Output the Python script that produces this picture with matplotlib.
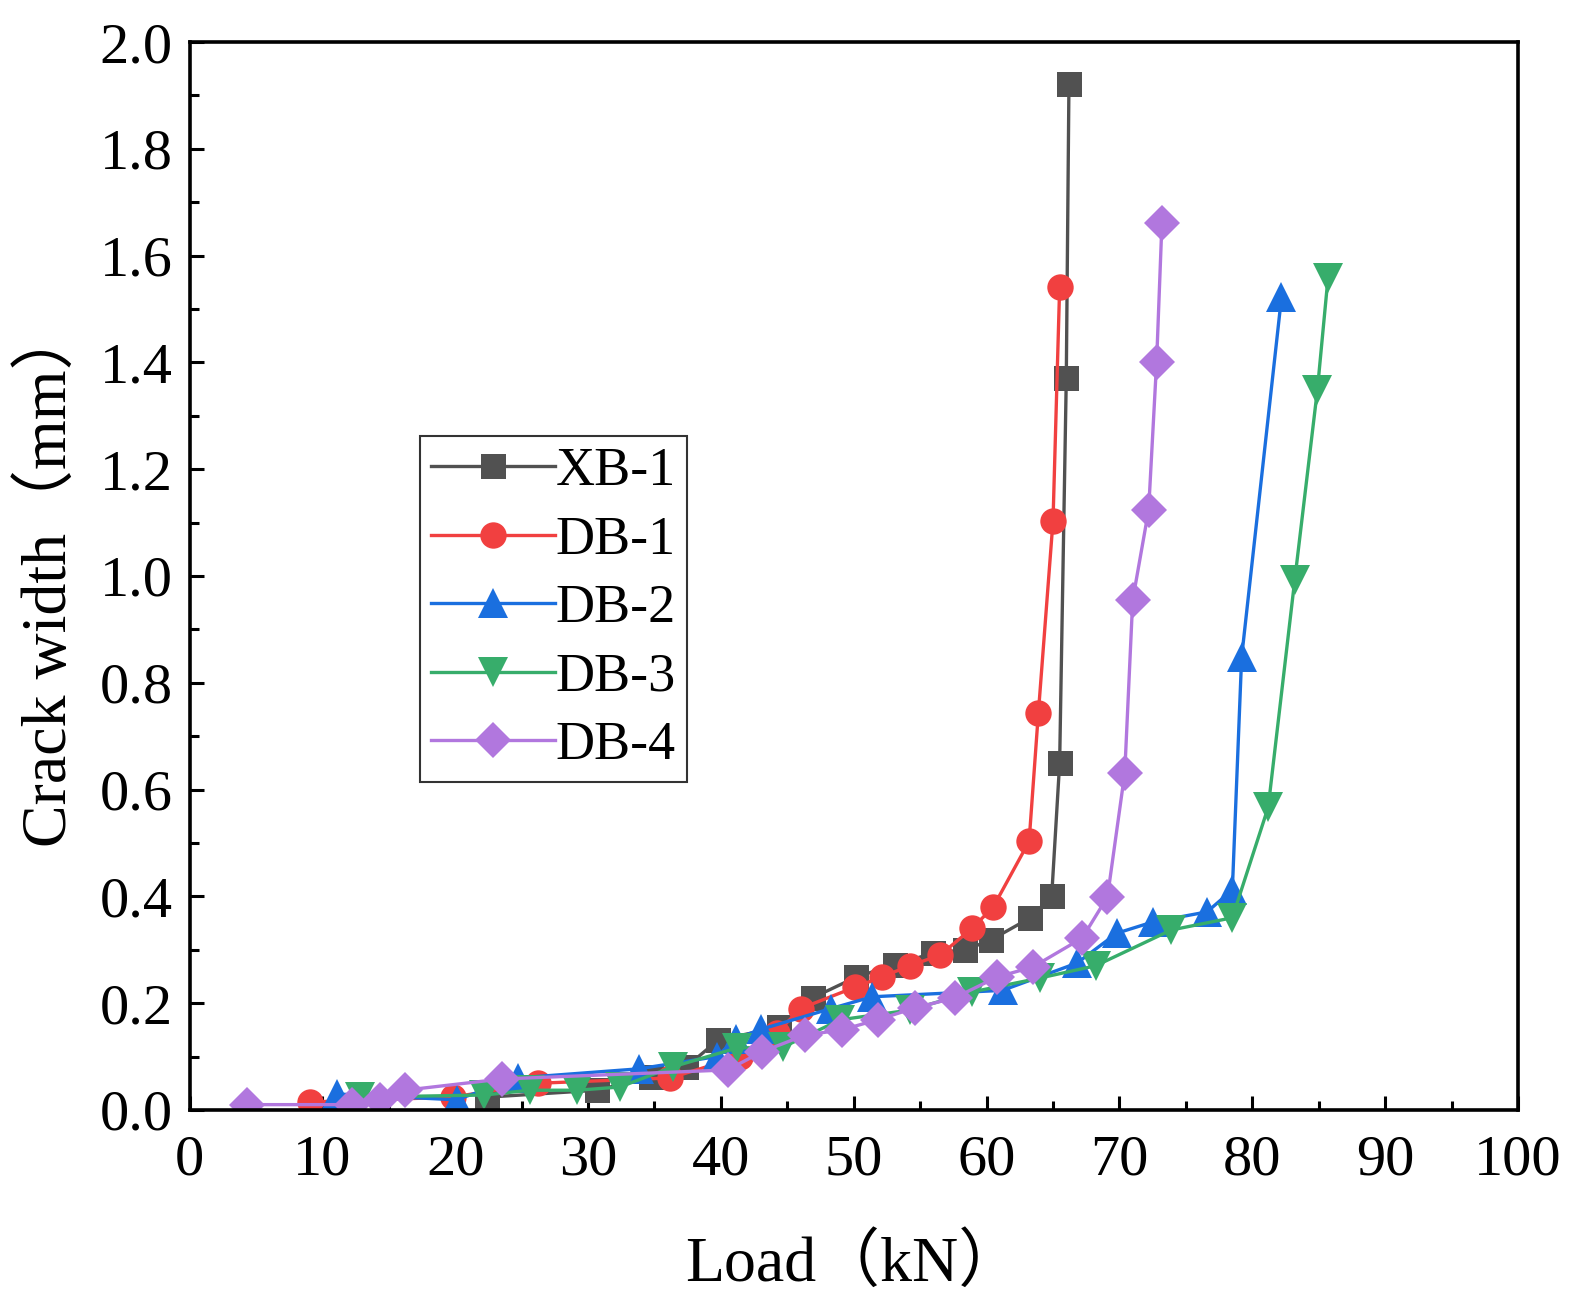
import matplotlib
matplotlib.use("Agg")
import matplotlib.pyplot as plt
from matplotlib.ticker import MultipleLocator, FormatStrFormatter

# ---- data ----
xb1_x = [22.4, 30.7, 34.7, 37.4, 39.8, 44.4, 46.9, 50.2, 53.1, 56.0, 58.4, 60.3, 63.3, 64.9, 65.5, 66.0, 66.2]
xb1_y = [0.024, 0.037, 0.062, 0.081, 0.131, 0.155, 0.21, 0.249, 0.272, 0.294, 0.30, 0.318, 0.36, 0.40, 0.65, 1.371, 1.921]

db1_x = [9.1, 19.8, 26.2, 36.2, 41.4, 44.2, 46.0, 50.1, 52.1, 54.2, 56.5, 58.9, 60.5, 63.2, 63.9, 65.0, 65.5]
db1_y = [0.015, 0.024, 0.05, 0.06, 0.10, 0.144, 0.19, 0.23, 0.249, 0.27, 0.29, 0.34, 0.38, 0.503, 0.744, 1.103, 1.541]

db2_x = [11.1, 20.1, 24.7, 33.8, 39.7, 41.1, 43.0, 48.3, 51.4, 61.2, 66.8, 69.8, 72.5, 76.6, 78.5, 79.2, 82.2]
db2_y = [0.03, 0.019, 0.06, 0.077, 0.10, 0.133, 0.151, 0.19, 0.212, 0.224, 0.275, 0.331, 0.352, 0.371, 0.412, 0.848, 1.522]

db3_x = [12.8, 22.2, 25.6, 29.2, 32.4, 36.4, 41.2, 44.7, 49.0, 54.2, 58.9, 64.0, 68.2, 73.9, 78.5, 81.2, 83.2, 84.9, 85.7]
db3_y = [0.024, 0.028, 0.037, 0.037, 0.043, 0.081, 0.116, 0.118, 0.169, 0.187, 0.221, 0.247, 0.27, 0.337, 0.36, 0.567, 0.993, 1.348, 1.558]

db4_x = [4.3, 12.2, 14.3, 16.2, 23.5, 40.5, 43.1, 46.3, 49.1, 51.8, 54.6, 57.6, 60.8, 63.5, 67.2, 69.1, 70.4, 71.0, 72.2, 72.8, 73.2]
db4_y = [0.01, 0.01, 0.019, 0.037, 0.058, 0.075, 0.109, 0.14, 0.15, 0.169, 0.191, 0.21, 0.249, 0.268, 0.322, 0.399, 0.631, 0.955, 1.124, 1.401, 1.661]

labels = ["XB-1", "DB-1", "DB-2", "DB-3", "DB-4"]
colors = ["#515151", "#F14040", "#1A6FDF", "#37AD6B", "#B177DE"]
markers = ["s", "o", "^", "v", "D"]
msizes = [18, 19, 22, 22, 18]

series = [(xb1_x, xb1_y), (db1_x, db1_y), (db2_x, db2_y), (db3_x, db3_y), (db4_x, db4_y)]

serif = ["Liberation Serif", "DejaVu Serif"]
cjk = ["Liberation Serif", "Noto Sans CJK SC", "DejaVu Sans"]

fig = plt.figure(figsize=(15.73, 12.97), dpi=100)
ax = fig.add_axes([0.1205, 0.1442, 0.8445, 0.8234])

for (xs, ys), lab, c, m, ms in zip(series, labels, colors, markers, msizes):
    ax.plot(xs, ys, color=c, marker=m, markersize=ms, linewidth=2.4,
            markeredgewidth=0, label=lab)

ax.set_xlim(0, 100)
ax.set_ylim(0, 2.0)
ax.xaxis.set_major_locator(MultipleLocator(10))
ax.xaxis.set_minor_locator(MultipleLocator(5))
ax.yaxis.set_major_locator(MultipleLocator(0.2))
ax.yaxis.set_minor_locator(MultipleLocator(0.1))
ax.yaxis.set_major_formatter(FormatStrFormatter("%.1f"))

ax.tick_params(which="both", direction="in", top=False, right=False, width=2.2)
ax.tick_params(which="major", length=10)
ax.tick_params(which="minor", length=6.5)
ax.tick_params(axis="x", which="major", pad=18)
ax.tick_params(axis="y", which="major", pad=12)
for sp in ax.spines.values():
    sp.set_linewidth(2.6)

for lbl in ax.get_xticklabels() + ax.get_yticklabels():
    lbl.set_fontfamily(serif)
    lbl.set_fontsize(42)

ax.set_xlabel("Load（kN）", fontsize=46, family=cjk, labelpad=34)
ax.set_ylabel("Crack width（mm）", fontsize=46, family=cjk, labelpad=14)

leg = ax.legend(loc="upper left", bbox_to_anchor=(0.1735, 0.631),
                prop={"family": serif, "size": 39}, frameon=True, fancybox=False,
                borderaxespad=0, borderpad=0.2, handlelength=2.3, handletextpad=0.0,
                labelspacing=0.33)
leg.get_frame().set_edgecolor("black")
leg.get_frame().set_linewidth(1.5)

fig.savefig("out.png", dpi=100)
